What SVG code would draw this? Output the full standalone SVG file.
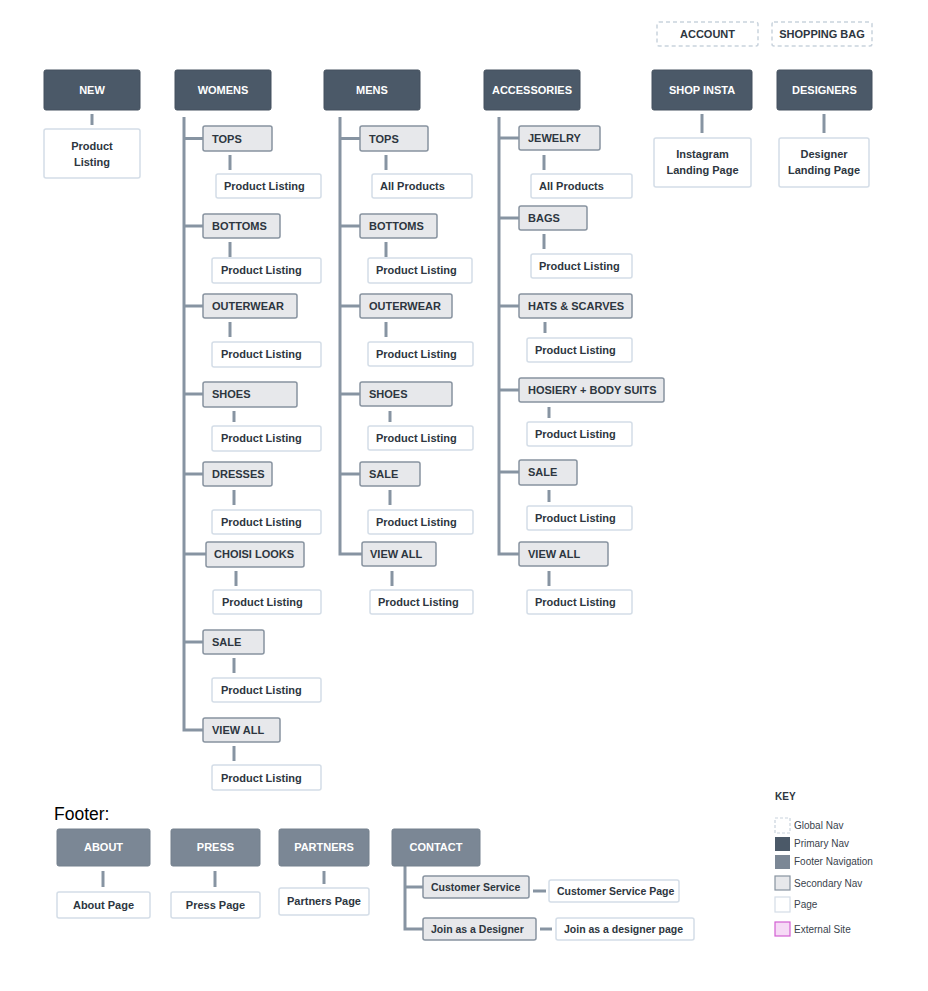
<svg xmlns="http://www.w3.org/2000/svg" width="928" height="991" viewBox="0 0 928 991">
<style>
text{font-family:"Liberation Sans",Arial,sans-serif;font-weight:bold;font-size:11px;fill:#2d3640}
.pri rect{fill:#4b5968;stroke:#44515e;stroke-width:1}
.pri text{fill:#ffffff;text-anchor:middle}
.ftr rect{fill:#7b8795;stroke:#74808d;stroke-width:1}
.ftr text{fill:#ffffff;text-anchor:middle}
.sec rect{fill:#e7e8eb;stroke:#8893a0;stroke-width:1.5}
.pg rect{fill:#ffffff;stroke:#d4dde7;stroke-width:1.5}
.glb rect{fill:#ffffff;stroke:#c9d3dd;stroke-width:1.5;stroke-dasharray:4 3}
.glb text{text-anchor:middle}
.c text{text-anchor:middle}
.sm text{font-size:10.5px}
#connectors line,#connectors path{stroke:#8794a2;stroke-width:3;fill:none}
.key text{font-weight:normal;font-size:10px;fill:#3a434d}
</style>

<g id="connectors">
  <line x1="92" y1="114" x2="92" y2="125"/>
  <line x1="702" y1="114" x2="702" y2="133"/>
  <line x1="824" y1="114" x2="824" y2="133"/>
  <path d="M184 117 V730 H203"/>
  <line x1="184" y1="138.5" x2="203" y2="138.5"/>
  <line x1="184" y1="226" x2="203" y2="226"/>
  <line x1="184" y1="306" x2="203" y2="306"/>
  <line x1="184" y1="394" x2="203" y2="394"/>
  <line x1="184" y1="474" x2="203" y2="474"/>
  <line x1="184" y1="554" x2="206" y2="554"/>
  <line x1="184" y1="642" x2="203" y2="642"/>
  <line x1="230" y1="155" x2="230" y2="170"/>
  <line x1="230" y1="242" x2="230" y2="257"/>
  <line x1="230" y1="322" x2="230" y2="337"/>
  <line x1="234" y1="411" x2="234" y2="422"/>
  <line x1="234" y1="490" x2="234" y2="505"/>
  <line x1="236" y1="571" x2="236" y2="586"/>
  <line x1="234" y1="658" x2="234" y2="673"/>
  <line x1="234" y1="746" x2="234" y2="761"/>
  <path d="M340 117 V554 H362"/>
  <line x1="340" y1="138.5" x2="360" y2="138.5"/>
  <line x1="340" y1="226" x2="360" y2="226"/>
  <line x1="340" y1="306" x2="360" y2="306"/>
  <line x1="340" y1="394" x2="360" y2="394"/>
  <line x1="340" y1="474" x2="360" y2="474"/>
  <line x1="386" y1="155" x2="386" y2="170"/>
  <line x1="386" y1="242" x2="386" y2="257"/>
  <line x1="386" y1="322" x2="386" y2="337"/>
  <line x1="390" y1="411" x2="390" y2="422"/>
  <line x1="390" y1="490" x2="390" y2="505"/>
  <line x1="392" y1="571" x2="392" y2="586"/>
  <path d="M499 117 V554 H519"/>
  <line x1="499" y1="138" x2="519" y2="138"/>
  <line x1="499" y1="218" x2="519" y2="218"/>
  <line x1="499" y1="306" x2="519" y2="306"/>
  <line x1="499" y1="390" x2="519" y2="390"/>
  <line x1="499" y1="472" x2="519" y2="472"/>
  <line x1="544" y1="155" x2="544" y2="170"/>
  <line x1="544" y1="234" x2="544" y2="249"/>
  <line x1="545" y1="322" x2="545" y2="333"/>
  <line x1="549" y1="407" x2="549" y2="418"/>
  <line x1="549" y1="490" x2="549" y2="502"/>
  <line x1="549" y1="571" x2="549" y2="586"/>
  <line x1="103" y1="871" x2="103" y2="887"/>
  <line x1="215" y1="871" x2="215" y2="887"/>
  <line x1="324" y1="871" x2="324" y2="884"/>
  <path d="M405 866 V929 H423"/>
  <line x1="405" y1="887" x2="423" y2="887"/>
  <line x1="533" y1="891" x2="546" y2="891"/>
  <line x1="540" y1="929" x2="552" y2="929"/>
</g>

<g id="account" class="glb"><rect x="657" y="22" width="101" height="24" rx="2"/><text x="707.5" y="38">ACCOUNT</text></g>
<g id="shopping-bag" class="glb"><rect x="772" y="22" width="100" height="24" rx="2"/><text x="822" y="38">SHOPPING BAG</text></g>

<g id="new" class="pri"><rect x="44" y="70" width="96" height="40" rx="2"/><text x="92" y="94">NEW</text></g>
<g id="womens" class="pri"><rect x="175" y="70" width="96" height="40" rx="2"/><text x="223" y="94">WOMENS</text></g>
<g id="mens" class="pri"><rect x="324" y="70" width="96" height="40" rx="2"/><text x="372" y="94">MENS</text></g>
<g id="accessories" class="pri"><rect x="484" y="70" width="96" height="40" rx="2"/><text x="532" y="94">ACCESSORIES</text></g>
<g id="shop-insta" class="pri"><rect x="652" y="70" width="100" height="40" rx="2"/><text x="702" y="94">SHOP INSTA</text></g>
<g id="designers" class="pri"><rect x="777" y="70" width="95" height="40" rx="2"/><text x="824.5" y="94">DESIGNERS</text></g>

<g id="new-page" class="pg c"><rect x="44" y="129" width="96" height="49" rx="2"/><text x="92" y="150">Product</text><text x="92" y="166">Listing</text></g>
<g id="insta-page" class="pg c"><rect x="654" y="138" width="97" height="49" rx="2"/><text x="702.5" y="158">Instagram</text><text x="702.5" y="174">Landing Page</text></g>
<g id="designer-page" class="pg c"><rect x="779" y="138" width="90" height="49" rx="2"/><text x="824" y="158">Designer</text><text x="824" y="174">Landing Page</text></g>

<g id="w-tops" class="sec"><rect x="203" y="126" width="69" height="25" rx="2"/><text x="212" y="142.5">TOPS</text></g>
<g id="w-tops-pg" class="pg"><rect x="216" y="174" width="105" height="24" rx="2"/><text x="224" y="190">Product Listing</text></g>
<g id="w-bottoms" class="sec"><rect x="203" y="214" width="77" height="24" rx="2"/><text x="212" y="230">BOTTOMS</text></g>
<g id="w-bottoms-pg" class="pg"><rect x="212" y="258" width="109" height="25" rx="2"/><text x="221" y="274">Product Listing</text></g>
<g id="w-outerwear" class="sec"><rect x="203" y="294" width="94" height="24" rx="2"/><text x="212" y="310">OUTERWEAR</text></g>
<g id="w-outerwear-pg" class="pg"><rect x="212" y="342" width="109" height="25" rx="2"/><text x="221" y="358">Product Listing</text></g>
<g id="w-shoes" class="sec"><rect x="203" y="382" width="94" height="25" rx="2"/><text x="212" y="398">SHOES</text></g>
<g id="w-shoes-pg" class="pg"><rect x="212" y="426" width="109" height="25" rx="2"/><text x="221" y="442">Product Listing</text></g>
<g id="w-dresses" class="sec"><rect x="203" y="462" width="69" height="24" rx="2"/><text x="212" y="478">DRESSES</text></g>
<g id="w-dresses-pg" class="pg"><rect x="212" y="510" width="109" height="24" rx="2"/><text x="221" y="526">Product Listing</text></g>
<g id="w-choisi" class="sec"><rect x="206" y="542" width="98" height="25" rx="2"/><text x="214" y="558">CHOISI LOOKS</text></g>
<g id="w-choisi-pg" class="pg"><rect x="213" y="590" width="108" height="24" rx="2"/><text x="222" y="606">Product Listing</text></g>
<g id="w-sale" class="sec"><rect x="203" y="630" width="61" height="24" rx="2"/><text x="212" y="646">SALE</text></g>
<g id="w-sale-pg" class="pg"><rect x="212" y="678" width="109" height="24" rx="2"/><text x="221" y="694">Product Listing</text></g>
<g id="w-viewall" class="sec"><rect x="203" y="718" width="77" height="24" rx="2"/><text x="212" y="734">VIEW ALL</text></g>
<g id="w-viewall-pg" class="pg"><rect x="212" y="765" width="109" height="25" rx="2"/><text x="221" y="782">Product Listing</text></g>

<g id="m-tops" class="sec"><rect x="360" y="126" width="68" height="25" rx="2"/><text x="369" y="142.5">TOPS</text></g>
<g id="m-tops-pg" class="pg"><rect x="372" y="174" width="100" height="24" rx="2"/><text x="380" y="190">All Products</text></g>
<g id="m-bottoms" class="sec"><rect x="360" y="214" width="77" height="24" rx="2"/><text x="369" y="230">BOTTOMS</text></g>
<g id="m-bottoms-pg" class="pg"><rect x="368" y="258" width="104" height="25" rx="2"/><text x="376" y="274">Product Listing</text></g>
<g id="m-outerwear" class="sec"><rect x="360" y="294" width="92" height="24" rx="2"/><text x="369" y="310">OUTERWEAR</text></g>
<g id="m-outerwear-pg" class="pg"><rect x="368" y="342" width="105" height="24" rx="2"/><text x="376" y="358">Product Listing</text></g>
<g id="m-shoes" class="sec"><rect x="360" y="382" width="92" height="24" rx="2"/><text x="369" y="398">SHOES</text></g>
<g id="m-shoes-pg" class="pg"><rect x="368" y="426" width="105" height="24" rx="2"/><text x="376" y="442">Product Listing</text></g>
<g id="m-sale" class="sec"><rect x="360" y="462" width="60" height="24" rx="2"/><text x="369" y="478">SALE</text></g>
<g id="m-sale-pg" class="pg"><rect x="368" y="510" width="105" height="24" rx="2"/><text x="376" y="526">Product Listing</text></g>
<g id="m-viewall" class="sec"><rect x="362" y="542" width="74" height="24" rx="2"/><text x="370" y="558">VIEW ALL</text></g>
<g id="m-viewall-pg" class="pg"><rect x="370" y="590" width="103" height="24" rx="2"/><text x="378" y="606">Product Listing</text></g>

<g id="a-jewelry" class="sec"><rect x="519" y="126" width="81" height="24" rx="2"/><text x="528" y="142">JEWELRY</text></g>
<g id="a-jewelry-pg" class="pg"><rect x="531" y="174" width="101" height="24" rx="2"/><text x="539" y="190">All Products</text></g>
<g id="a-bags" class="sec"><rect x="519" y="206" width="68" height="24" rx="2"/><text x="528" y="222">BAGS</text></g>
<g id="a-bags-pg" class="pg"><rect x="531" y="254" width="101" height="24" rx="2"/><text x="539" y="270">Product Listing</text></g>
<g id="a-hats" class="sec"><rect x="519" y="294" width="113" height="24" rx="2"/><text x="528" y="310">HATS &amp; SCARVES</text></g>
<g id="a-hats-pg" class="pg"><rect x="527" y="338" width="105" height="24" rx="2"/><text x="535" y="354">Product Listing</text></g>
<g id="a-hosiery" class="sec"><rect x="519" y="378" width="145" height="24" rx="2"/><text x="528" y="394">HOSIERY + BODY SUITS</text></g>
<g id="a-hosiery-pg" class="pg"><rect x="527" y="422" width="105" height="24" rx="2"/><text x="535" y="438">Product Listing</text></g>
<g id="a-sale" class="sec"><rect x="519" y="460" width="58" height="25" rx="2"/><text x="528" y="476">SALE</text></g>
<g id="a-sale-pg" class="pg"><rect x="527" y="506" width="105" height="24" rx="2"/><text x="535" y="522">Product Listing</text></g>
<g id="a-viewall" class="sec"><rect x="519" y="542" width="89" height="24" rx="2"/><text x="528" y="558">VIEW ALL</text></g>
<g id="a-viewall-pg" class="pg"><rect x="527" y="590" width="105" height="24" rx="2"/><text x="535" y="606">Product Listing</text></g>

<text x="54" y="820" style="font-weight:normal;font-size:17.5px;fill:#000">Footer:</text>
<g id="about" class="ftr"><rect x="57" y="829" width="93" height="37" rx="2"/><text x="103.5" y="851">ABOUT</text></g>
<g id="about-pg" class="pg c"><rect x="57" y="892" width="93" height="26" rx="2"/><text x="103.5" y="909">About Page</text></g>
<g id="press" class="ftr"><rect x="171" y="829" width="89" height="37" rx="2"/><text x="215.5" y="851">PRESS</text></g>
<g id="press-pg" class="pg c"><rect x="171" y="892" width="89" height="26" rx="2"/><text x="215.5" y="909">Press Page</text></g>
<g id="partners" class="ftr"><rect x="279" y="829" width="90" height="37" rx="2"/><text x="324" y="851">PARTNERS</text></g>
<g id="partners-pg" class="pg c"><rect x="279" y="888" width="90" height="27" rx="2"/><text x="324" y="905">Partners Page</text></g>
<g id="contact" class="ftr"><rect x="392" y="829" width="88" height="37" rx="2"/><text x="436" y="851">CONTACT</text></g>
<g id="customer-service" class="sec sm"><rect x="423" y="876" width="106" height="22" rx="2"/><text x="431" y="891">Customer Service</text></g>
<g id="customer-service-pg" class="pg sm"><rect x="549" y="880" width="130" height="22" rx="2"/><text x="557" y="895">Customer Service Page</text></g>
<g id="join-designer" class="sec sm"><rect x="423" y="918" width="113" height="22" rx="2"/><text x="431" y="933">Join as a Designer</text></g>
<g id="join-designer-pg" class="pg sm"><rect x="556" y="918" width="138" height="22" rx="2"/><text x="564" y="933">Join as a designer page</text></g>

<g id="key" class="key">
  <text x="775" y="800" style="font-weight:bold;fill:#2d3640">KEY</text>
  <rect x="775" y="818" width="15" height="15" fill="#fff" stroke="#c9d3dd" stroke-width="1.2" stroke-dasharray="3 2"/>
  <text x="794" y="829">Global Nav</text>
  <rect x="775" y="837" width="15" height="14" fill="#4b5968"/>
  <text x="794" y="847">Primary Nav</text>
  <rect x="775" y="855" width="15" height="14" fill="#7b8795"/>
  <text x="794" y="865">Footer Navigation</text>
  <rect x="775" y="876" width="15" height="14" fill="#e7e8eb" stroke="#8893a0" stroke-width="1.2"/>
  <text x="794" y="887">Secondary Nav</text>
  <rect x="775" y="897" width="15" height="15" fill="#fff" stroke="#d4dde7" stroke-width="1.2"/>
  <text x="794" y="908">Page</text>
  <rect x="775" y="922" width="15" height="14" fill="#f6daf6" stroke="#d35fd3" stroke-width="1.2"/>
  <text x="794" y="933">External Site</text>
</g>
</svg>
